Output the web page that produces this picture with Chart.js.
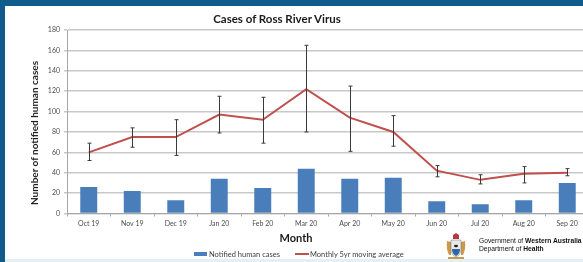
<!DOCTYPE html>
<html lang="en">
<head>
    <meta charset="UTF-8">
    <title>Cases of Ross River Virus</title>
    <script src="https://cdn.jsdelivr.net/npm/chart.js"></script>
    <style>
        html, body { margin: 0; padding: 0; background: #fff; overflow: hidden; }
        body { width: 583px; height: 262px; position: relative; font-family: Lato, "Open Sans", sans-serif; }
        #wrap { position: absolute; left: 0; top: 0; width: 600px; height: 262px; }
        .txt { position: absolute; white-space: nowrap; }
        #title { left: 0; width: 554px; top: 12px; text-align: center; font-weight: bold; font-size: 11.5px; color: #1a1a1a; }
        #ytitle { left: 34px; top: 133px; transform: translate(-50%, -50%) rotate(-90deg); font-weight: bold; font-size: 10px; color: #1a1a1a; }
        #xtitle { left: 0; width: 592px; top: 231px; text-align: center; font-weight: bold; font-size: 11px; color: #1a1a1a; }
        .legend { top: 249.5px; font-size: 7.5px; color: #404040; }
        .swatch { position: absolute; }
        .gov { left: 479px; font-family: "Liberation Sans", Arial, sans-serif; font-size: 6.7px; color: #111; }
        .border-top { position: absolute; left: 0; top: 0; width: 583px; height: 6px; background: #115a8c; }
        .border-left { position: absolute; left: 0; top: 0; width: 5px; height: 262px; background: #115a8c; }
        .border-bottom { position: absolute; left: 5px; top: 259px; width: 578px; height: 3px; background: #e3f1f4; }
    </style>
    <script>
        // data
        const months = ['Oct 19', 'Nov 19', 'Dec 19', 'Jan 20', 'Feb 20', 'Mar 20',
                        'Apr 20', 'May 20', 'Jun 20', 'Jul 20', 'Aug 20', 'Sep 20'];
        const notifiedCases = [26, 22, 13, 34, 25, 44, 34, 35, 12, 9, 13, 30];
        const movingAvg = [60, 75, 75, 97, 92, 122, 94, 80, 42, 33, 39, 40];
        const avgLow = [52, 65, 57, 79, 69, 80, 61, 66, 36, 29, 30, 37];
        const avgHigh = [69, 84, 92, 115, 114, 165, 125, 96, 47, 38, 46, 44];
        const yMax = 180;
        const yStep = 20;

        // draws the min/max whiskers around the moving average line
        const errorBars = {
            id: 'errorBars',
            afterDatasetsDraw(chart) {
                const meta = chart.getDatasetMeta(1);
                const y = chart.scales.y;
                const ctx = chart.ctx;
                ctx.save();
                ctx.strokeStyle = '#3a3a3a';
                ctx.lineWidth = 1;
                meta.data.forEach((pt, i) => {
                    const x = Math.round(pt.x) + 0.5;
                    const top = y.getPixelForValue(avgHigh[i]);
                    const bot = y.getPixelForValue(avgLow[i]);
                    ctx.beginPath();
                    ctx.moveTo(x, top);
                    ctx.lineTo(x, bot);
                    ctx.moveTo(x - 2, top);
                    ctx.lineTo(x + 2, top);
                    ctx.moveTo(x - 2, bot);
                    ctx.lineTo(x + 2, bot);
                    ctx.stroke();
                });
                ctx.restore();
            }
        };

        window.onload = function() {
            const ctx = document.getElementById('rrvChart').getContext('2d');
            new Chart(ctx, {
                type: 'bar',
                data: {
                    labels: months,
                    datasets: [{
                        label: 'Notified human cases',
                        data: notifiedCases,
                        backgroundColor: '#4a7ebb',
                        barPercentage: 0.39,
                        categoryPercentage: 1,
                        order: 1
                    }, {
                        type: 'line',
                        label: 'Monthly 5yr moving average',
                        data: movingAvg,
                        borderColor: '#c0504d',
                        borderWidth: 2,
                        pointRadius: 0,
                        tension: 0,
                        order: 0
                    }]
                },
                options: {
                    responsive: false,
                    animation: false,
                    layout: { padding: { left: 42, top: 30, right: 11, bottom: 30.5 } },
                    plugins: {
                        legend: { display: false },
                        title: { display: false },
                        tooltip: { enabled: false }
                    },
                    scales: {
                        x: {
                            offset: true,
                            grid: { offset: true, drawOnChartArea: false, drawTicks: true, tickLength: 3, color: '#a6a6a6' },
                            border: { color: '#a6a6a6', width: 1 },
                            ticks: { color: '#4d4d4d', font: { family: 'Lato', size: 7 }, padding: 3, maxRotation: 0, autoSkip: false },
                            afterFit(s) { s.height = 18; }
                        },
                        y: {
                            min: 0,
                            max: yMax,
                            grid: { color: '#c8c8c8', lineWidth: 1.5, tickLength: 3 },
                            border: { color: '#a6a6a6', width: 1 },
                            ticks: { stepSize: yStep, color: '#4d4d4d', font: { family: 'Lato', size: 7 }, padding: 4 },
                            afterFit(s) { s.width = 25; }
                        }
                    }
                },
                plugins: [errorBars]
            });
        };
    </script>
</head>
<body>
    <div id="wrap"><canvas id="rrvChart" width="600" height="262"></canvas></div>

    <div class="txt" id="title">Cases of Ross River Virus</div>
    <div class="txt" id="ytitle">Number of notified human cases</div>
    <div class="txt" id="xtitle">Month</div>

    <div class="swatch" style="left:194px; top:252px; width:13px; height:4px; background:#4a7ebb;"></div>
    <div class="txt legend" style="left:209px;">Notified human cases</div>
    <div class="swatch" style="left:295px; top:253px; width:14px; height:2px; background:#c0504d;"></div>
    <div class="txt legend" style="left:310px;">Monthly 5yr moving average</div>

    <!-- rough WA government crest -->
    <svg style="position:absolute; left:445px; top:233px;" width="22" height="28" viewBox="0 0 22 28">
        <path d="M8 2 L11 0 L14 2 L14 6 L8 6 Z" fill="#b23a3a"/>
        <path d="M2 8 Q1 16 4 22 L6 22 L6 9 Z" fill="#c89a4a"/>
        <path d="M20 8 Q21 16 18 22 L16 22 L16 9 Z" fill="#c89a4a"/>
        <path d="M6 7 L16 7 L16 16 Q16 22 11 24 Q6 22 6 16 Z" fill="#e8e8e8" stroke="#777" stroke-width="0.5"/>
        <path d="M7 16 L15 16 Q15 21 11 23 Q7 21 7 16 Z" fill="#2f66a8"/>
        <ellipse cx="11" cy="13" rx="2" ry="1.3" fill="#222"/>
        <rect x="3" y="24" width="16" height="2" fill="#c89a4a"/>
    </svg>
    <div class="txt gov" style="top:236.5px;">Government of <b>Western Australia</b></div>
    <div class="txt gov" style="top:245px;">Department of <b>Health</b></div>

    <div class="border-top"></div>
    <div class="border-left"></div>
    <div class="border-bottom"></div>
</body>
</html>
